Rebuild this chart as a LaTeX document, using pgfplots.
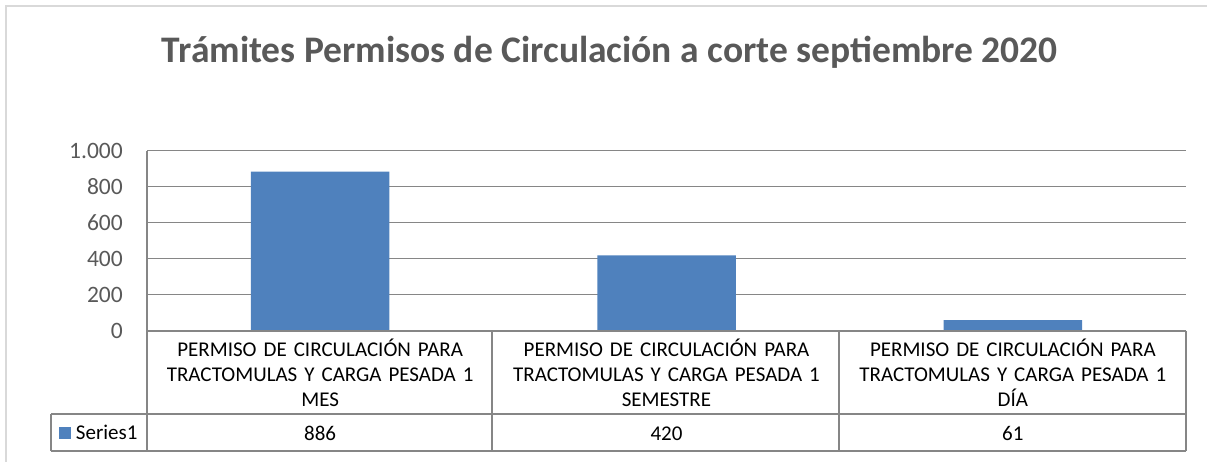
\documentclass[border=0pt]{standalone}
\usepackage{fontspec}
\setmainfont{Carlito}
\usepackage{pgfplots}
\pgfplotsset{compat=1.18}
\definecolor{barblue}{HTML}{4F81BD}
\definecolor{txtgray}{HTML}{595959}
\definecolor{gridgray}{HTML}{868686}
\definecolor{bordergray}{HTML}{D9D9D9}
\begin{document}
\begin{tikzpicture}[x=1pt,y=1pt]
\useasboundingbox (0,0) rectangle (1207,462);
\draw[bordergray, line width=1.5pt] (6,0) -- (6,456) -- (1207,456);
\node[txtgray, font=\fontsize{37.5}{42}\selectfont\bfseries] at (610,410) {Trámites Permisos de Circulación a corte septiembre 2020};
\begin{axis}[
  at={(147pt,131pt)}, anchor=south west,
  scale only axis, width=1039pt, height=180pt,
  xmin=-0.5, xmax=2.5, ymin=0, ymax=1000,
  ytick={0,200,400,600,800,1000},
  xtick={0,1,2},
  xticklabels={{PERMISO DE CIRCULACIÓN PARA\\TRACTOMULAS Y CARGA PESADA 1\\MES\\[9pt]886},
               {PERMISO DE CIRCULACIÓN PARA\\TRACTOMULAS Y CARGA PESADA 1\\SEMESTRE\\[9pt]420},
               {PERMISO DE CIRCULACIÓN PARA\\TRACTOMULAS Y CARGA PESADA 1\\DÍA\\[9pt]61}},
  axis line style={draw=none},
  major tick length=0pt,
  ymajorgrids, grid style={gridgray, line width=1pt},
  /pgf/number format/.cd, 1000 sep={.}, assume math mode=true, /pgfplots/.cd,
  yticklabel style={font=\fontsize{23.5}{27}\selectfont, text=txtgray, anchor=east, inner sep=0pt, xshift=-24pt},
  xticklabel style={font=\fontsize{21}{25}\selectfont, text=black, text width=340pt, align=center, anchor=north, inner sep=0pt, yshift=-8pt},
  legend style={at={(axis description cs:-0.0847,-0.5667)}, anchor=west, draw=none, fill=none, inner sep=0pt, outer sep=0pt, font=\fontsize{21}{25}\selectfont, text=black},
  legend image code/.code={\fill[barblue] (0pt,-6pt) rectangle (12pt,6pt); \path (15pt,0pt);},
]
\addplot[ybar, fill=barblue, draw=none, bar width=138.5pt] coordinates {(0,886) (1,420) (2,61)};
\addlegendentry{Series1}
\end{axis}
\draw[gridgray, line width=1.3pt]
  (147,311) -- (147,11)
  (492,131) -- (492,11)
  (839,131) -- (839,11)
  (1186,131) -- (1186,11)
  (147,131) -- (1186,131)
  (51,48) -- (1186,48)
  (51,11) -- (1186,11)
  (51,48) -- (51,11);
\end{tikzpicture}
\end{document}
